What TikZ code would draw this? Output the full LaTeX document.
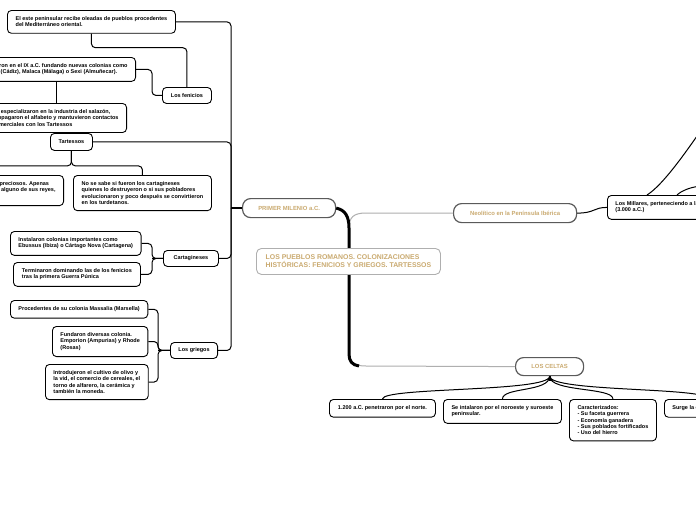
\documentclass[tikz,border=0pt]{standalone}
\usepackage{fontspec}
\setmainfont{Liberation Sans}
\definecolor{topictext}{RGB}{202,170,112}
\definecolor{topicgray}{RGB}{90,90,90}
\definecolor{rootgray}{RGB}{175,175,175}
\tikzset{
    idea/.style={
           draw=black, line width=0.9pt,
           rounded corners=4pt,
           fill=white,
           align=left,
           inner xsep=8pt, inner ysep=6.3pt,
           font=\fontsize{5.5}{6.2}\selectfont\bfseries
           },
    group/.style={
           idea,
           align=center,
           inner ysep=3pt,
           minimum height=16pt
           },
    topic/.style={
           draw=topicgray, line width=1.2pt,
           rounded corners=8pt,
           fill=white,
           text=topictext,
           minimum height=19pt,
           font=\fontsize{5.9}{7}\selectfont\bfseries
           },
    central/.style={
           draw=rootgray, line width=0.9pt,
           rounded corners=5pt,
           fill=white,
           text=topictext,
           align=left,
           inner xsep=9pt,
           minimum height=26pt,
           font=\fontsize{6.9}{8.2}\selectfont\bfseries
           },
    link/.style={draw=black, line width=1pt, rounded corners=4pt},
    stub/.style={draw=black, line width=1.8pt},
    trunk/.style={draw=black, line width=3pt},
    rootlink/.style={draw=rootgray, line width=1pt}
}

\begin{document}
\begin{tikzpicture}[x=1pt, y=-1pt]
\path[use as bounding box, fill=white] (0,0) rectangle (696,520);

% ramas principales
\node[topic, anchor=north west, minimum width=93pt]  (milenio)   at (242,198) {PRIMER MILENIO a.C.};
\node[topic, anchor=north west, minimum width=123pt] (neolitico) at (453,203) {Neolítico en la Península Ibérica};
\node[topic, anchor=north west, minimum width=68pt, minimum height=18pt] (celtas) at (515,357) {LOS CELTAS};

\coordinate (trunktop) at (349,228);
\coordinate (trunkbot) at (349,354);
\coordinate (bus)      at (231,208);
\draw[rootlink] (trunktop) .. controls (349,217) and (354,213) .. (366,213) -- (neolitico.west);
\draw[rootlink] (trunkbot) .. controls (349,362) and (354,366) .. (366,366) -- (celtas.west);
\draw[trunk] (milenio.east) .. controls (345,210) and (349,216) .. (trunktop) -- (trunkbot)
             .. controls (349,361) and (352,365) .. (359,366);

\node[central, anchor=north west, minimum width=184pt] (central) at (256,248)
     {LOS PUEBLOS ROMANOS. COLONIZACIONES\\HISTÓRICAS: FENICIOS Y GRIEGOS. TARTESSOS};

% fenicios y tartessos
\node[idea, anchor=north west, minimum width=168pt] (este) at (7,10)
     {El este peninsular recibe oleadas de pueblos procedentes\\del Mediterráneo oriental.};
\node[group, anchor=north west, minimum width=49pt] (fenicios) at (162,87) {Los fenicios};
\node[idea, anchor=north east] (llegaron) at (136,57)
     {Llegaron en el IX a.C. fundando nuevas colonias como\\Gadir (Cádiz), Malaca (Málaga) o Sexi (Almuñecar).};
\node[idea, anchor=north east] (espec) at (127,103)
     {Se especializaron en la industria del salazón,\\propagaron el alfabeto y mantuvieron contactos\\comerciales con los Tartessos};
\node[group, anchor=north west, minimum width=42pt, minimum height=17pt] (tartessos) at (50,133) {Tartessos};
\node[idea, anchor=north east] (preciosos) at (64,175)
     {Una zona rica en metales preciosos. Apenas\\y se conoce el nombre de alguno de sus reyes,\\como Argantonio.};
\node[idea, anchor=north west, minimum width=138pt] (nosabe) at (73,175)
     {No se sabe si fueron los cartagineses\\quienes lo destruyeron o si sus pobladores\\evolucionaron y poco después se convirtieron\\en los turdetanos.};

% cartagineses
\node[group, anchor=north west, minimum width=55pt] (cartagineses) at (163,250) {Cartagineses};
\node[idea, anchor=north west, minimum width=129pt] (instalaron) at (10,231)
     {Instalaron colonias importantes como\\Ebussus (Ibiza) o Cártago Nova (Cartagena)};
\node[idea, anchor=north west, minimum width=127pt] (terminaron) at (13,262)
     {Terminaron dominando las de los fenicios\\tras la primera Guerra Púnica};

% griegos
\node[group, anchor=north west, minimum width=47pt] (griegos) at (170,342) {Los griegos};
\node[idea, anchor=north west, minimum width=137pt] (massalia) at (10,300)
     {Procedentes de su colonia Massalia (Marsella)};
\node[idea, anchor=north west, minimum width=95pt] (fundaron) at (52,326)
     {Fundaron diversas colonia.\\Emporion (Ampurias) y Rhode\\(Rosas)};
\node[idea, anchor=north west, minimum width=102pt] (introdujeron) at (45,364)
     {Introdujeron el cultivo de olivo y\\la vid, el comercio de cereales, el\\torno de alfarero, la cerámica y\\también la moneda.};

% neolitico y celtas
\node[idea, anchor=north west] (millares) at (607,195)
     {Los Millares, perteneciendo a la Edad del Cobre\\(3.000 a.C.)};
\node[idea, anchor=north west, minimum width=106pt] (norte) at (329,399) {1.200 a.C. penetraron por el norte.};
\node[idea, anchor=north west, minimum width=118pt] (intalaron) at (443,399)
     {Se intalaron por el noroeste y suroeste\\peninsular.};
\node[idea, anchor=north west, minimum width=87pt] (caracter) at (569,399)
     {Caracterizados:\\- Su faceta guerrera\\- Economía ganadera\\- Sus poblados fortificados\\- Uso del hierro};
\node[idea, anchor=north west] (surge) at (664,399) {Surge la cultura celtibérica.};

\coordinate (upA) at (704,126);
\coordinate (upB) at (704,186);

% conectores
\draw[stub] (milenio.west) -- (bus);
\draw[link] (este.east) -| (bus);
\draw[link] (tartessos.east) -| (bus);
\draw[link] (cartagineses.east) -| (bus);
\draw[link] (griegos.east) -| (bus);

\draw[link] (este.south) -- ++(0,14) -| (fenicios.north);
\draw[link] (fenicios.west) -- ++(-10,0) |- (llegaron.east);
\draw[link] (llegaron.south) -- (llegaron.south |- espec.north);
\draw[link] (tartessos.south) -- ++(0,15) -| (preciosos.north);
\draw[link] (tartessos.south) -- ++(0,15) -| (nosabe.north);

\draw[stub] (cartagineses.west) -- ++(-11,0);
\draw[link] (cartagineses.west) -- ++(-11,0) |- (instalaron.east);
\draw[link] (cartagineses.west) -- ++(-11,0) |- (terminaron.east);

\draw[stub] (griegos.west) -- ++(-12,0);
\draw[link] (griegos.west) -- ++(-12,0) |- (massalia.east);
\draw[link] (griegos.west) -- ++(-12,0) |- (fundaron.east);
\draw[link] (griegos.west) -- ++(-12,0) |- (introdujeron.east);

\draw[link] (neolitico.east) .. controls +(18,0) and +(-14,0) .. (millares.west);
\draw[link] ([xshift=40pt]millares.north west) .. controls +(16,-10) and +(-18,26) .. (upA);
\draw[link] ([xshift=70pt]millares.north west) .. controls +(4,-4) and +(-12,0) .. (upB);

\draw[stub] (celtas.south) -- ++(0,5);
\draw[link] (celtas.south) .. controls +(0,16) and +(0,-12) .. (norte.north)
            (celtas.south) .. controls +(0,16) and +(0,-12) .. (intalaron.north)
            (celtas.south) .. controls +(0,16) and +(0,-12) .. (caracter.north)
            (celtas.south) .. controls +(0,16) and +(0,-12) .. (surge.north);
\end{tikzpicture}
\end{document}
